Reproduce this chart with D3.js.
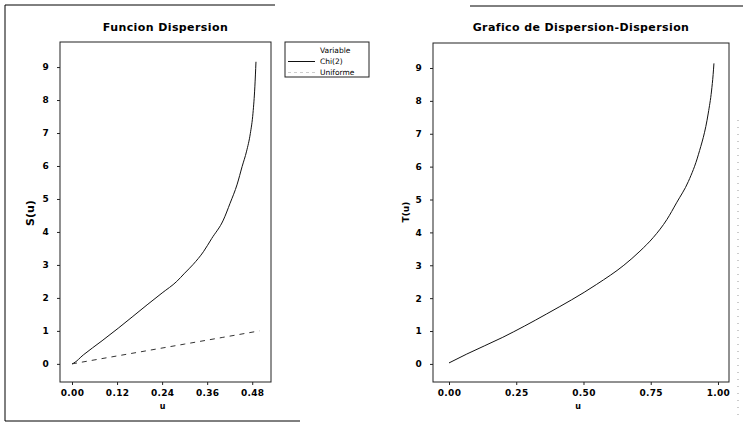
<!DOCTYPE html>
<html><head><meta charset="utf-8">
<script src="https://cdn.jsdelivr.net/npm/d3@7"></script>
<style>body{margin:0;background:#fff}svg{display:block}text{font-family:"DejaVu Sans",sans-serif;fill:#000}</style>
</head><body><svg id="c" width="743" height="423"></svg>
<script>
// Data
const chiU = [0, 0.004, 0.03, 0.08, 0.123, 0.16, 0.2, 0.24, 0.279, 0.3, 0.323, 0.35, 0.372, 0.403, 0.421, 0.44, 0.453, 0.465, 0.475, 0.482, 0.487, 0.49];
const chiS = [0, 0.02, 0.27, 0.7, 1.08, 1.42, 1.79, 2.15, 2.5, 2.75, 3.02, 3.4, 3.8, 4.36, 4.87, 5.45, 5.98, 6.45, 6.99, 7.6, 8.4, 9.16];
const uniU = [0, 0.1, 0.2, 0.3, 0.4, 0.499];
const uniS = [0, 0.2, 0.4, 0.6, 0.8, 1.0];
const ddV = [0, 0.066, 0.2, 0.363, 0.549, 0.65, 0.71, 0.76, 0.81, 0.846, 0.89, 0.927, 0.964, 0.976, 0.982, 0.985];
const ddT = [0.03, 0.3, 0.81, 1.52, 2.42, 3.0, 3.43, 3.85, 4.39, 4.9, 5.55, 6.36, 7.63, 8.3, 8.8, 9.14];
const leftXTicks = [0, 0.12, 0.24, 0.36, 0.48];
const rightXTicks = [0, 0.25, 0.5, 0.75, 1.0];
const yTicks = [0,1,2,3,4,5,6,7,8,9];
const legendItems = ["Chi(2)", "Uniforme"];

const svg = d3.select("#c");

// outer frames
svg.append("path").attr("d","M275,5H5V421H300").attr("fill","none").attr("stroke","#000").attr("stroke-width",1);
svg.append("path").attr("d","M470,6H743").attr("fill","none").attr("stroke","#000").attr("stroke-width",1);
svg.append("path").attr("d","M738,120V421").attr("fill","none").attr("stroke","#999").attr("stroke-width",1).attr("stroke-dasharray","1,6");

function panel(o){
  const x = d3.scaleLinear().domain(o.xd).range([o.x0,o.x1]);
  const y = d3.scaleLinear().domain([-0.55,9.76]).range([o.y1,o.y0]);
  const g = svg.append("g");
  g.append("rect").attr("x",o.x0).attr("y",o.y0).attr("width",o.x1-o.x0).attr("height",o.y1-o.y0)
    .attr("fill","none").attr("stroke","#222").attr("stroke-width",1);
  const xa = g.append("g").attr("transform",`translate(0,${o.y1})`)
    .call(d3.axisBottom(x).tickValues(o.xt).tickFormat(d3.format(".2f")).tickSize(3).tickPadding(5));
  const ya = g.append("g").attr("transform",`translate(${o.x0},0)`)
    .call(d3.axisLeft(y).tickValues(yTicks).tickFormat(d3.format("d")).tickSize(3).tickPadding(8));
  [xa,ya].forEach(a=>{a.select(".domain").remove();a.selectAll("line").attr("stroke","#222");
    a.selectAll("text").attr("font-size",9).attr("font-weight","bold").attr("letter-spacing",0.3).style("font-family","DejaVu Sans");});
  g.append("text").attr("x",(o.x0+o.x1)/2).attr("y",31).attr("text-anchor","middle")
    .attr("font-size",11).attr("font-weight","bold").attr("letter-spacing",0.4).text(o.title);
  g.append("text").attr("x",(o.x0+o.x1)/2-3).attr("y",409).attr("text-anchor","middle")
    .attr("font-size",8).attr("font-weight","bold").text("u");
  g.append("text").attr("transform",`translate(${o.ylx},${o.yly}) rotate(-90)`).attr("text-anchor","middle")
    .attr("font-size",o.ylfs).attr("font-weight","bold").text(o.ylab);
  const line = d3.line().x(d=>x(d[0])).y(d=>y(d[1])).curve(d3.curveMonotoneX);
  o.series.forEach(s=>{
    g.append("path").datum(s.u.map((v,i)=>[v,s.v[i]])).attr("d",line).attr("fill","none")
      .attr("stroke",s.c).attr("stroke-width",1).attr("stroke-dasharray",s.dash||null);
  });
}

panel({x0:60,x1:271,y0:42,y1:382,xd:[-0.032,0.53],xt:leftXTicks,title:"Funcion Dispersion",
  ylab:"S(u)",ylx:34,yly:213,ylfs:11,
  series:[{u:chiU,v:chiS,c:"#111"},{u:uniU,v:uniS,c:"#333",dash:"5,5"}]});
panel({x0:433,x1:729,y0:43,y1:382,xd:[-0.0595,1.041],xt:rightXTicks,title:"Grafico de Dispersion-Dispersion",
  ylab:"T(u)",ylx:409,yly:212,ylfs:9,
  series:[{u:ddV,v:ddT,c:"#111"}]});

// legend
const lg = svg.append("g");
lg.append("rect").attr("x",285).attr("y",42).attr("width",84).attr("height",35).attr("fill","none").attr("stroke","#222");
lg.append("text").attr("x",320).attr("y",53).attr("font-size",7.5).text("Variable");
legendItems.forEach((t,i)=>{
  const yy = 64 + i*11;
  lg.append("line").attr("x1",288).attr("x2",315).attr("y1",yy-2.5).attr("y2",yy-2.5)
    .attr("stroke", i===0?"#111":"#ccc").attr("stroke-dasharray", i===0?null:"3,3");
  lg.append("text").attr("x",320).attr("y",yy).attr("font-size",7.5).text(t);
});
</script></body></html>
